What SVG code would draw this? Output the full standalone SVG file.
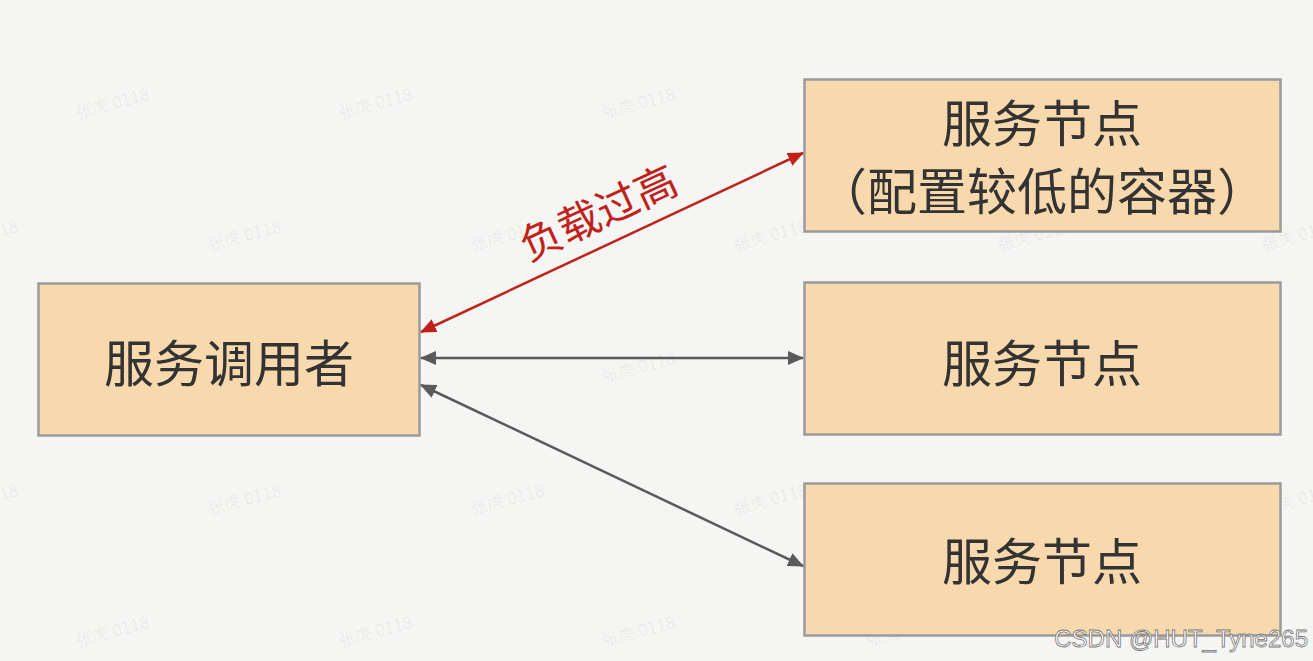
<svg xmlns="http://www.w3.org/2000/svg" width="1313" height="661" viewBox="0 0 1313 661">
<style>
.box{fill:#f7d9ad;stroke:#9a9a9a;stroke-width:2.5}
.lbl{font-family:"Noto Sans CJK SC","Noto Sans",sans-serif;font-size:50px;fill:#333;text-anchor:middle;dominant-baseline:central}
.wm{font-family:"Noto Sans CJK SC","Noto Sans",sans-serif;font-size:17px;fill:#000;fill-opacity:0.06;text-anchor:middle;dominant-baseline:central}
.gray{stroke:#5a5a5a;stroke-width:2.5;fill:none}
.red{stroke:#c0221b;stroke-width:2.5;fill:none}
</style>
<defs>
<marker id="ag" viewBox="0 0 16 14" refX="15" refY="7" markerWidth="16" markerHeight="14" markerUnits="userSpaceOnUse" orient="auto-start-reverse"><path d="M0,0 L16,7 L0,14 z" fill="#5a5a5a"/></marker>
<marker id="ar" viewBox="0 0 16 14" refX="15" refY="7" markerWidth="16" markerHeight="14" markerUnits="userSpaceOnUse" orient="auto-start-reverse"><path d="M0,0 L16,7 L0,14 z" fill="#c0221b"/></marker>
</defs>
<rect width="1313" height="661" fill="#f5f5f3"/>
<g id="watermarks">
<g transform="rotate(-15 112 102)"><text class="wm" x="112" y="102">张虎 0118</text></g>
<g transform="rotate(-15 375 102)"><text class="wm" x="375" y="102">张虎 0118</text></g>
<g transform="rotate(-15 638 102)"><text class="wm" x="638" y="102">张虎 0118</text></g>
<g transform="rotate(-15 902 102)"><text class="wm" x="902" y="102">张虎 0118</text></g>
<g transform="rotate(-15 1166 102)"><text class="wm" x="1166" y="102">张虎 0118</text></g>
<g transform="rotate(-15 -19 234)"><text class="wm" x="-19" y="234">张虎 0118</text></g>
<g transform="rotate(-15 244 234)"><text class="wm" x="244" y="234">张虎 0118</text></g>
<g transform="rotate(-15 507 234)"><text class="wm" x="507" y="234">张虎 0118</text></g>
<g transform="rotate(-15 770 234)"><text class="wm" x="770" y="234">张虎 0118</text></g>
<g transform="rotate(-15 1034 234)"><text class="wm" x="1034" y="234">张虎 0118</text></g>
<g transform="rotate(-15 1298 234)"><text class="wm" x="1298" y="234">张虎 0118</text></g>
<g transform="rotate(-15 112 366)"><text class="wm" x="112" y="366">张虎 0118</text></g>
<g transform="rotate(-15 375 366)"><text class="wm" x="375" y="366">张虎 0118</text></g>
<g transform="rotate(-15 638 366)"><text class="wm" x="638" y="366">张虎 0118</text></g>
<g transform="rotate(-15 902 366)"><text class="wm" x="902" y="366">张虎 0118</text></g>
<g transform="rotate(-15 1166 366)"><text class="wm" x="1166" y="366">张虎 0118</text></g>
<g transform="rotate(-15 -19 498)"><text class="wm" x="-19" y="498">张虎 0118</text></g>
<g transform="rotate(-15 244 498)"><text class="wm" x="244" y="498">张虎 0118</text></g>
<g transform="rotate(-15 507 498)"><text class="wm" x="507" y="498">张虎 0118</text></g>
<g transform="rotate(-15 770 498)"><text class="wm" x="770" y="498">张虎 0118</text></g>
<g transform="rotate(-15 1034 498)"><text class="wm" x="1034" y="498">张虎 0118</text></g>
<g transform="rotate(-15 1298 498)"><text class="wm" x="1298" y="498">张虎 0118</text></g>
<g transform="rotate(-15 112 630)"><text class="wm" x="112" y="630">张虎 0118</text></g>
<g transform="rotate(-15 375 630)"><text class="wm" x="375" y="630">张虎 0118</text></g>
<g transform="rotate(-15 638 630)"><text class="wm" x="638" y="630">张虎 0118</text></g>
<g transform="rotate(-15 902 630)"><text class="wm" x="902" y="630">张虎 0118</text></g>
<g transform="rotate(-15 1166 630)"><text class="wm" x="1166" y="630">张虎 0118</text></g>
</g>
<g id="caller"><rect class="box" x="38.5" y="283.5" width="381" height="152"/><text class="lbl" x="229" y="360">服务调用者</text></g>
<g id="node1"><rect class="box" x="804.5" y="79.5" width="476" height="152"/><text class="lbl" x="1042" y="120">服务节点</text><text class="lbl" x="1042" y="188">（配置较低的容器）</text></g>
<g id="node2"><rect class="box" x="804.5" y="282.5" width="476" height="152"/><text class="lbl" x="1042" y="360">服务节点</text></g>
<g id="node3"><rect class="box" x="804.5" y="483.5" width="476" height="152"/><text class="lbl" x="1042" y="558">服务节点</text></g>
<g id="connectors">
<line class="red" x1="421" y1="332" x2="803" y2="153" marker-start="url(#ar)" marker-end="url(#ar)"/>
<g transform="rotate(-24.8 597 210)"><text x="597" y="210" font-family="Noto Sans CJK SC, Noto Sans, sans-serif" font-size="42" fill="#c0221b" text-anchor="middle" dominant-baseline="central">负载过高</text></g>
<line class="gray" x1="421" y1="358" x2="803" y2="358" marker-start="url(#ag)" marker-end="url(#ag)"/>
<line class="gray" x1="421" y1="385" x2="803" y2="566" marker-start="url(#ag)" marker-end="url(#ag)"/>
</g>
<text x="1308" y="647" font-family="Liberation Sans, Arial, sans-serif" font-size="24" fill="#fff" stroke="#777" stroke-width="0.8" text-anchor="end">CSDN @HUT_Tyne265</text>
</svg>
